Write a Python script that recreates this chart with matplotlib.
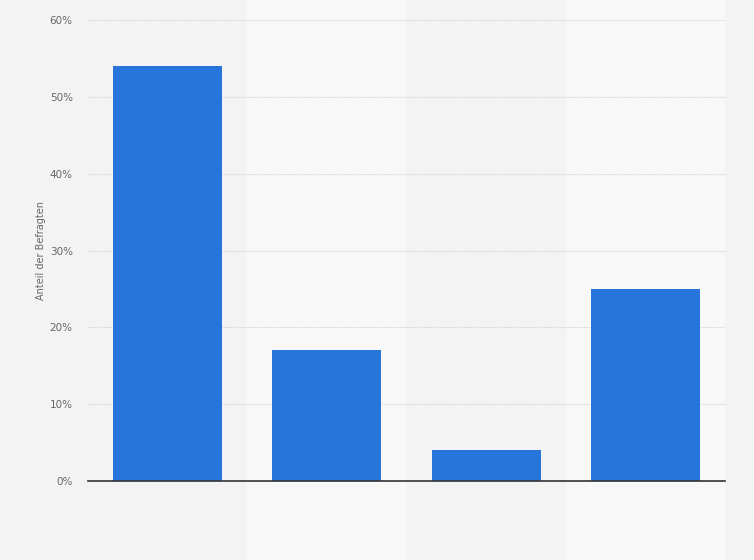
import matplotlib
matplotlib.use('Agg')
from matplotlib import pyplot as plt
from matplotlib.ticker import FuncFormatter

# Data:
categories = ['A', 'B', 'C', 'D']
values = [54, 17, 4, 25]
yticks = [0, 10, 20, 30, 40, 50, 60]

barColour = '#2775db'
bgColour = '#f3f3f3'
bandColour = '#f8f8f8'

figure = plt.figure(figsize=(7.54, 5.6), dpi=100)
figure.patch.set_facecolor(bgColour)
ax = figure.add_axes([0.1167, 0.141, 0.8448, 0.823])
ax.set_facecolor(bgColour)

x = list(range(len(categories)))

# Alternating light bands:
for i in x:
    if i % 2 == 1:
        ax.axvspan(i - 0.5, i + 0.5, ymin=-0.2, ymax=1.05, color=bandColour,
                   zorder=0, clip_on=False, linewidth=0)

ax.bar(x, values, width=0.685, color=barColour, zorder=3)

ax.set_xlim(-0.5, len(categories) - 0.5)
ax.set_ylim(0, 60)
ax.set_yticks(yticks)
ax.yaxis.set_major_formatter(FuncFormatter(lambda v, p: '%d%%' % v))
ax.set_xticks([])
ax.grid(axis='y', color='#d2d2d2', linestyle=(0, (1, 1)), linewidth=0.8, zorder=1)
ax.tick_params(axis='y', length=0, labelsize=7.5, labelcolor='#666666', pad=11)

for s in ['top', 'right', 'left']:
    ax.spines[s].set_visible(False)
ax.spines['bottom'].set_color('#333333')
ax.spines['bottom'].set_linewidth(1.2)
ax.spines['bottom'].set_zorder(4)

ax.set_ylabel('Anteil der Befragten', fontsize=7, color='#666666', labelpad=3)

plt.savefig('out.png', dpi=100, facecolor=bgColour)
plt.close()
